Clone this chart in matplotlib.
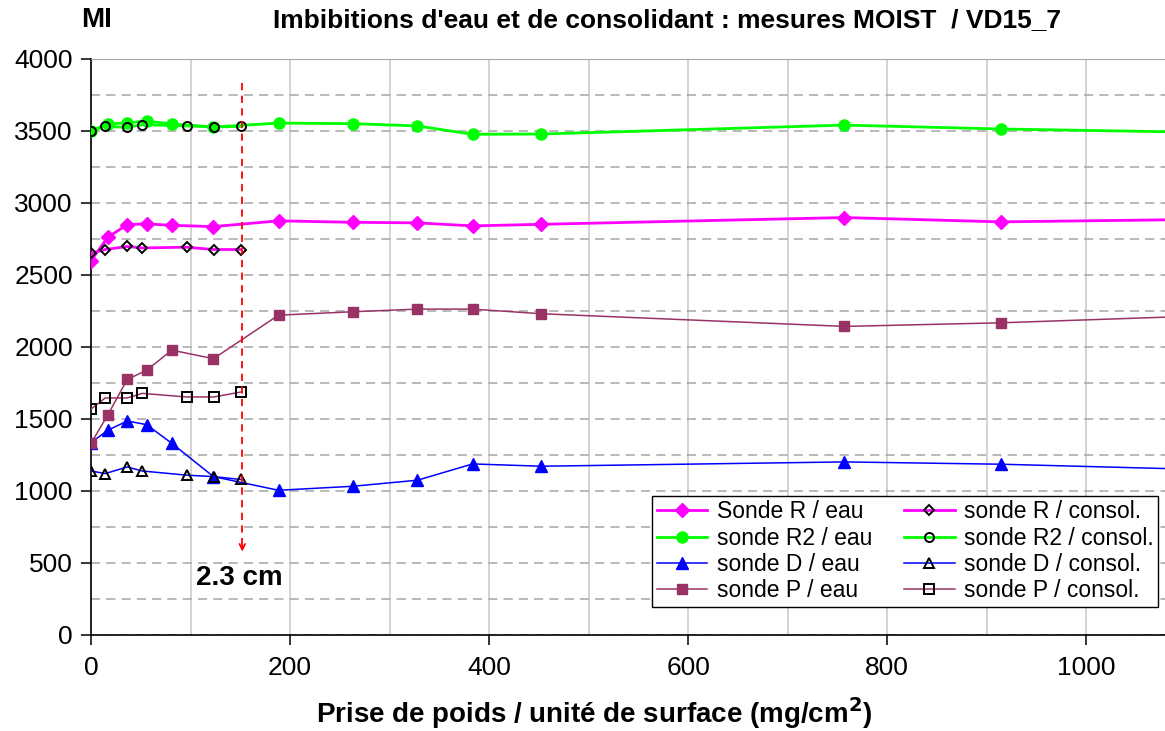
"""Imbibitions d'eau et de consolidant : mesures MOIST / VD15_7."""

import matplotlib
matplotlib.use("Agg")
import matplotlib.pyplot as plt
import numpy as np

plt.rcParams["font.family"] = ["Liberation Sans", "DejaVu Sans"]

# water uptake series (x in mg/cm2); the last point lies beyond the visible range
x_eau = [0, 16.9, 36.4, 55.8, 81.2, 123, 188.4, 263.4, 328, 383.4, 452.5, 757, 914, 1150]
r_eau = [2600, 2762, 2850, 2855, 2845, 2836, 2876, 2866, 2862, 2841, 2852, 2899, 2869, 2889]
r2_eau = [3502, 3548, 3557, 3569, 3549, 3528, 3555, 3551, 3535, 3477, 3479, 3541, 3514, 3487]
d_eau = [1335, 1422, 1486, 1461, 1331, 1100, 1005, 1033, 1075, 1188, 1172, 1202, 1186, 1143]
p_eau = [1331, 1528, 1775, 1838, 1978, 1919, 2221, 2245, 2263, 2263, 2231, 2143, 2168, 2224]

# consolidant uptake series
x_consol = [0, 14.3, 36.4, 51.4, 96, 123.4, 150.3]
r_consol = [2651, 2677, 2698, 2688, 2693, 2677, 2677]
r2_consol = [3502, 3532, 3525, 3544, 3535, 3528, 3532]
d_consol = [1139, 1121, 1167, 1139, 1110, 1100, 1080]
p_consol = [1569, 1646, 1646, 1678, 1653, 1653, 1687]

depth_x = 152
depth_label = "2.3 cm"

MAGENTA = "#ff00ff"
GREEN = "#00ff00"
BLUE = "#0000ff"
PLUM = "#993366"

fig = plt.figure(figsize=(11.65, 7.31), dpi=100)
ax = fig.add_axes([91 / 1165, 96 / 731, 1074 / 1165, 576 / 731])

eau = [
    ("Sonde R / eau", r_eau, MAGENTA, "D", 7, 2.0),
    ("sonde R2 / eau", r2_eau, GREEN, "o", 8, 2.0),
    ("sonde D / eau", d_eau, BLUE, "^", 8, 1.1),
    ("sonde P / eau", p_eau, PLUM, "s", 7.5, 1.1),
]
consol = [
    ("sonde R / consol.", r_consol, MAGENTA, "D", 5.5, 2.0),
    ("sonde R2 / consol.", r2_consol, GREEN, "o", 6.5, 2.0),
    ("sonde D / consol.", d_consol, BLUE, "^", 6.5, 1.1),
    ("sonde P / consol.", p_consol, PLUM, "s", 6.5, 1.1),
]

for label, vals, col, mk, ms, lw in eau:
    ax.plot(x_eau, vals, color=col, marker=mk, markersize=ms, lw=lw,
            markerfacecolor=col, markeredgecolor=col, label=label, zorder=3)
for label, vals, col, mk, ms, lw in consol:
    ax.plot(x_consol, vals, color=col, marker=mk, markersize=ms, lw=lw,
            markerfacecolor="none", markeredgecolor="black", markeredgewidth=1.4,
            label=label, zorder=4)

# depth marker
ax.plot([depth_x, depth_x], [3835, 620], color="#ff0000", ls=(0, (4, 3)), lw=1.3, zorder=5)
ax.annotate("", xy=(depth_x, 560), xytext=(depth_x, 640),
            arrowprops=dict(arrowstyle="->", color="#ff0000", lw=1.3, mutation_scale=10))
ax.text(depth_x - 3, 395, depth_label, fontsize=20, fontweight="bold", ha="center", va="center")

ax.set_xlim(0, 1079)
ax.set_ylim(0, 4000)
ax.set_xticks(np.arange(0, 1001, 200))
ax.set_xticks(np.arange(0, 1080, 100), minor=True)
ax.set_yticks(np.arange(0, 4001, 500))
ax.set_yticks(np.arange(0, 4001, 250), minor=True)

ax.set_axisbelow(True)
ax.grid(axis="x", which="both", color="#c8c8c8", lw=1.1, ls="-")
ax.grid(axis="y", which="both", color="#a6a6a6", lw=1.1, ls=(0, (6, 4)))

ax.tick_params(axis="both", which="major", labelsize=19, length=7, width=1.1, direction="out", color="black")
ax.tick_params(axis="x", which="major", pad=8)
ax.tick_params(axis="y", which="major", pad=6)
ax.tick_params(axis="both", which="minor", length=0)

ax.spines["right"].set_visible(False)
ax.spines["top"].set_color("#a6a6a6")
ax.spines["left"].set_linewidth(1.2)
ax.spines["bottom"].set_linewidth(1.2)

leg = ax.legend(ncol=2, loc="lower right", bbox_to_anchor=(0.9935, 0.0486), borderaxespad=0,
                fontsize=16.5, frameon=True, fancybox=False, framealpha=1, edgecolor="black",
                handlelength=2.2, handletextpad=0.4, labelspacing=0.15, columnspacing=1.4,
                borderpad=0.2)
leg.get_frame().set_linewidth(1.0)

fig.text(97 / 1165, 1 - 20 / 731, "MI", fontsize=20, fontweight="bold", ha="center", va="center")
fig.text(667 / 1165, 1 - 20 / 731, "Imbibitions d'eau et de consolidant : mesures MOIST  / VD15_7",
         fontsize=19, fontweight="bold", ha="center", va="center")
fig.text(594 / 1165, 1 - 713 / 731, "Prise de poids / unité de surface (mg/cm$^\\mathbf{2}$)",
         fontsize=20, fontweight="bold", ha="center", va="center")

fig.savefig("out.png", dpi=100)
